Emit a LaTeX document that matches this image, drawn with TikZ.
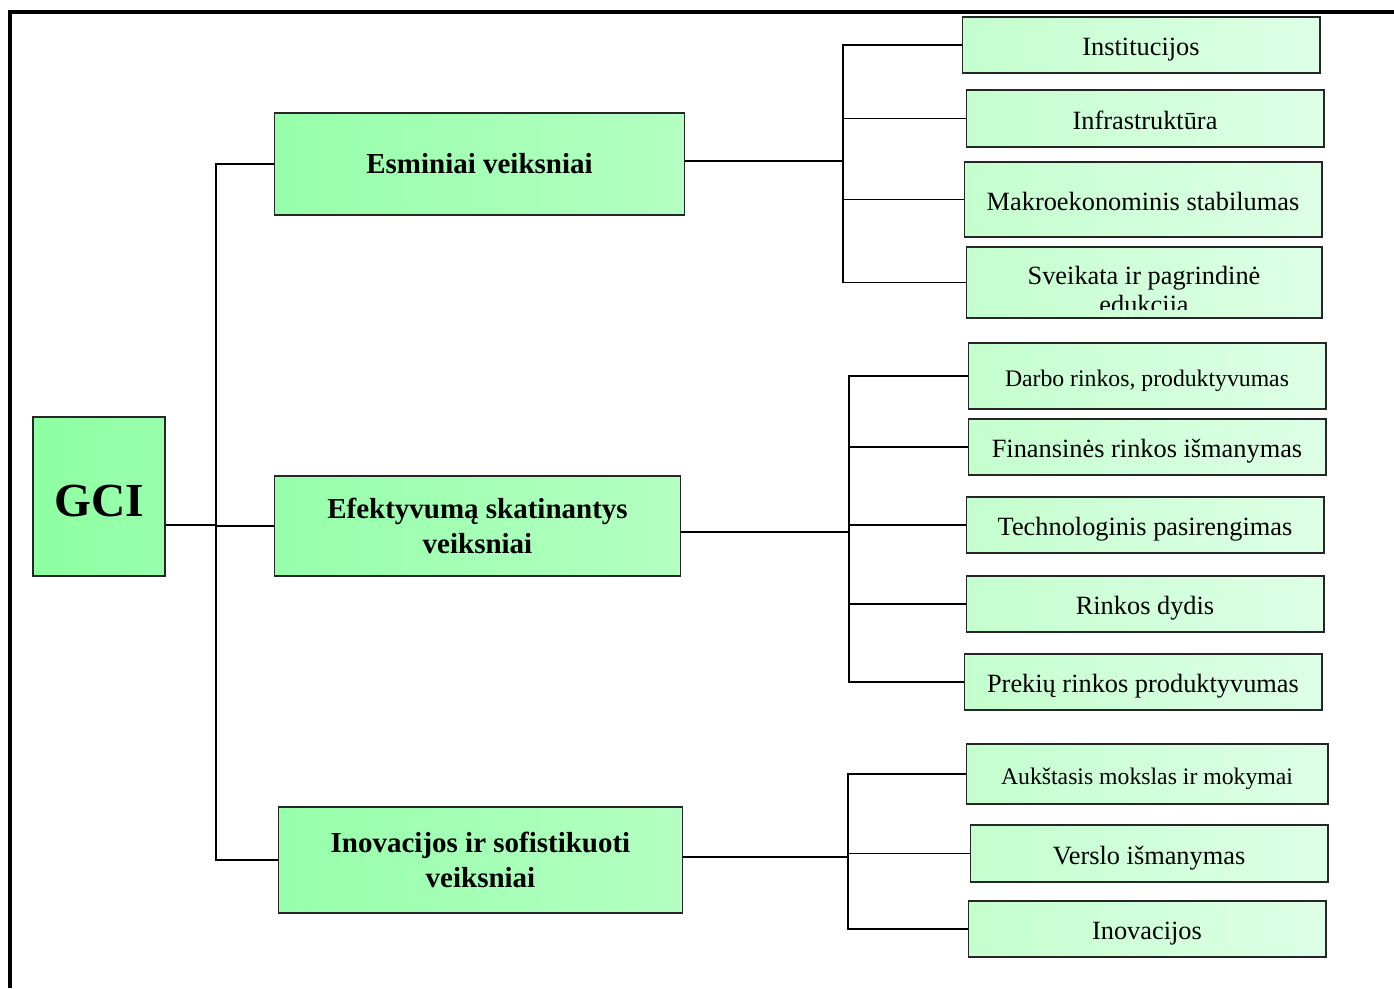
\documentclass[tikz,border=0pt]{standalone}
\usepackage{fontspec}
\setmainfont{Liberation Serif}
\definecolor{gciL}{RGB}{142,255,162}
\definecolor{gciR}{RGB}{152,255,172}
\definecolor{mainL}{RGB}{150,255,170}
\definecolor{mainR}{RGB}{180,255,194}
\definecolor{leafL}{RGB}{196,255,206}
\definecolor{leafR}{RGB}{222,255,230}
\tikzset{
  gcibox/.style={draw=black!85,line width=0.6pt,left color=gciL,right color=gciR,
    text height=22.5pt,text depth=0pt,font=\bfseries\fontsize{27}{30}\selectfont},
  mainbox/.style={draw=black!85,line width=0.6pt,left color=mainL,right color=mainR,
    align=center,font=\bfseries\fontsize{16.5}{19.5}\selectfont},
  leafbox/.style={draw=black!85,line width=0.6pt,left color=leafL,right color=leafR,
    minimum width=7.16cm,minimum height=1.12cm,align=center,
    text height=13.5pt,text depth=1.5pt,font=\fontsize{15}{16.5}\selectfont},
  link/.style={line width=0.8pt}
}
\begin{document}
\begin{tikzpicture}[x=0.02cm,y=-0.02cm]
  \useasboundingbox (0,0) rectangle (1394,988);
  \draw[line width=2.8pt] (10,988) -- (10,12) -- (1394,12);
  % root and main groups
  \node (gci) at (99,496.5) [gcibox,minimum width=2.64cm,minimum height=3.18cm] {GCI};
  \node (esm) at (479.5,164) [mainbox,minimum width=8.22cm,minimum height=2.04cm] {Esminiai veiksniai};
  \node (efk) at (477.5,526) [mainbox,minimum width=8.14cm,minimum height=2cm] {Efektyvumą skatinantys\\veiksniai};
  \node (ino) at (480.5,860) [mainbox,minimum width=8.1cm,minimum height=2.12cm] {Inovacijos ir sofistikuoti\\veiksniai};
  % leaves
  \node (inst) at (1141,45) [leafbox] {Institucijos};
  \node (infra) at (1145,118.5) [leafbox,minimum height=1.14cm] {Infrastruktūra};
  \node (makro) at (1143,199.5) [leafbox,minimum height=1.5cm] {Makroekonominis stabilumas};
  \node (sveik) at (1144,282.5) [leafbox,minimum width=7.12cm,minimum height=1.42cm] {};
  \begin{scope}
    \clip ([yshift=0.18cm]sveik.south west) rectangle (sveik.north east);
    \node at ([yshift=-0.2cm]sveik.center) [align=center,font=\fontsize{15}{16.5}\selectfont] {Sveikata ir pagrindinė\\edukcija};
  \end{scope}
  \node (darbo) at (1147,376) [leafbox,minimum height=1.32cm,font=\fontsize{13.5}{16}\selectfont] {Darbo rinkos, produktyvumas};
  \node (fin) at (1147,447) [leafbox] {Finansinės rinkos išmanymas};
  \node (tech) at (1145,525) [leafbox] {Technologinis pasirengimas};
  \node (rink) at (1145,604) [leafbox] {Rinkos dydis};
  \node (prek) at (1143,682) [leafbox] {Prekių rinkos produktyvumas};
  \node (auks) at (1147,774) [leafbox,minimum width=7.24cm,minimum height=1.2cm,font=\fontsize{13.5}{16}\selectfont] {Aukštasis mokslas ir mokymai};
  \node (verslo) at (1149,853.5) [leafbox,minimum height=1.14cm] {Verslo išmanymas};
  \node (inov) at (1147,929) [leafbox] {Inovacijos};
  % connectors
  \coordinate (t0) at (216,525);
  \coordinate (b1) at (843,161);
  \coordinate (b2) at (849,532);
  \coordinate (b3) at (848,857);
  \draw[link] (gci.east |- t0) -- (t0);
  \foreach \n in {esm,efk,ino} \draw[link] (t0) |- (\n.west);
  \draw[link] (esm.east |- b1) -- (b1);
  \foreach \n in {inst,infra,makro,sveik} \draw[link] (b1) |- (\n.west);
  \draw[link] (efk.east |- b2) -- (b2);
  \foreach \n in {darbo,fin,tech,rink,prek} \draw[link] (b2) |- (\n.west);
  \draw[link] (ino.east |- b3) -- (b3);
  \foreach \n in {auks,verslo,inov} \draw[link] (b3) |- (\n.west);
\end{tikzpicture}
\end{document}
